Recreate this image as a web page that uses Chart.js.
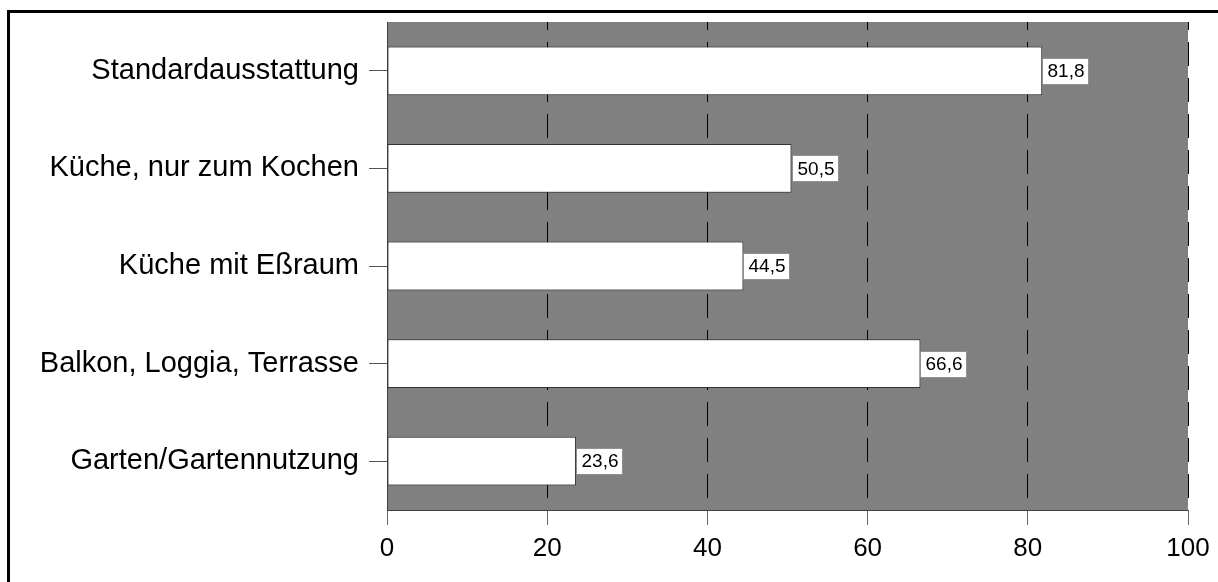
<!DOCTYPE html>
<html>
<head>
<meta charset="utf-8">
<script src="https://cdn.jsdelivr.net/npm/chart.js@4/dist/chart.umd.min.js"></script>
<style>
  html, body { margin: 0; padding: 0; background: #ffffff; }
  #c { display: block; }
</style>
</head>
<body>
<canvas id="c" width="1218" height="582"></canvas>
<script>
const categories = ["Standardausstattung", "Küche, nur zum Kochen", "Küche mit Eßraum", "Balkon, Loggia, Terrasse", "Garten/Gartennutzung"];
const values = [81.8, 50.5, 44.5, 66.6, 23.6];
const xMin = 0;
const xMax = 100;
const xStep = 20;

const plotBg = {
  id: 'plotBg',
  beforeDraw(chart) {
    const { ctx, chartArea: a } = chart;
    ctx.save();
    ctx.fillStyle = '#808080';
    ctx.fillRect(a.left, a.top, a.right - a.left, a.bottom - a.top);
    ctx.restore();
  }
};

const valueBoxes = {
  id: 'valueBoxes',
  afterDatasetsDraw(chart) {
    const { ctx } = chart;
    const meta = chart.getDatasetMeta(0);
    ctx.save();
    ctx.font = '19px "Liberation Sans", Arial, sans-serif';
    ctx.textBaseline = 'middle';
    ctx.textAlign = 'left';
    meta.data.forEach((bar, i) => {
      const txt = values[i].toFixed(1).replace('.', ',');
      const w = ctx.measureText(txt).width + 9;
      const h = 26;
      const x = Math.round(bar.x) + 0.5;
      const y = Math.round(bar.y - h / 2) + 0.5;
      ctx.fillStyle = '#ffffff';
      ctx.fillRect(x, y, w, h);
      ctx.strokeStyle = '#909090';
      ctx.lineWidth = 1;
      ctx.strokeRect(x, y, w, h);
      ctx.fillStyle = '#000000';
      ctx.fillText(txt, x + 5, bar.y + 1);
    });
    ctx.restore();
  }
};

const frame = {
  id: 'frame',
  afterDraw(chart) {
    const { ctx } = chart;
    ctx.save();
    ctx.strokeStyle = '#000000';
    ctx.lineWidth = 3;
    ctx.strokeRect(8.5, 11.5, 1400, 800);
    ctx.restore();
  }
};

new Chart(document.getElementById('c'), {
  type: 'bar',
  data: {
    labels: categories,
    datasets: [{
      data: values,
      backgroundColor: '#ffffff',
      borderColor: '#333333',
      borderWidth: 1,
      borderSkipped: false,
      categoryPercentage: 1.0,
      barPercentage: 0.5
    }]
  },
  options: {
    indexAxis: 'y',
    responsive: false,
    animation: false,
    devicePixelRatio: 1,
    layout: { padding: { top: 22, right: 30, left: 0, bottom: 0 } },
    plugins: {
      legend: { display: false },
      tooltip: { enabled: false }
    },
    scales: {
      x: {
        type: 'linear',
        min: xMin,
        max: xMax,
        ticks: {
          stepSize: xStep,
          color: '#000000',
          font: { family: '"Liberation Sans", Arial, sans-serif', size: 26 },
          padding: 8
        },
        grid: {
          color: '#000000',
          lineWidth: 1,
          drawTicks: true,
          tickLength: 15,
          tickColor: '#666666',
          tickBorderDash: []
        },
        border: { display: true, color: '#404040', width: 1, dash: [24, 12], dashOffset: 16 },
        afterFit(scale) { scale.height = 72; }
      },
      y: {
        ticks: {
          color: '#000000',
          font: { family: '"Liberation Sans", Arial, sans-serif', size: 29 },
          padding: 10
        },
        grid: {
          display: true,
          offset: false,
          drawOnChartArea: false,
          drawTicks: true,
          tickLength: 18,
          tickColor: '#555555',
          lineWidth: 1
        },
        border: { display: true, color: '#404040', width: 1 },
        afterFit(scale) {
          scale.width = 387;
          scale.paddingTop = 0;
          scale.paddingBottom = 0;
        }
      }
    }
  },
  plugins: [plotBg, valueBoxes, frame]
});
</script>
</body>
</html>
